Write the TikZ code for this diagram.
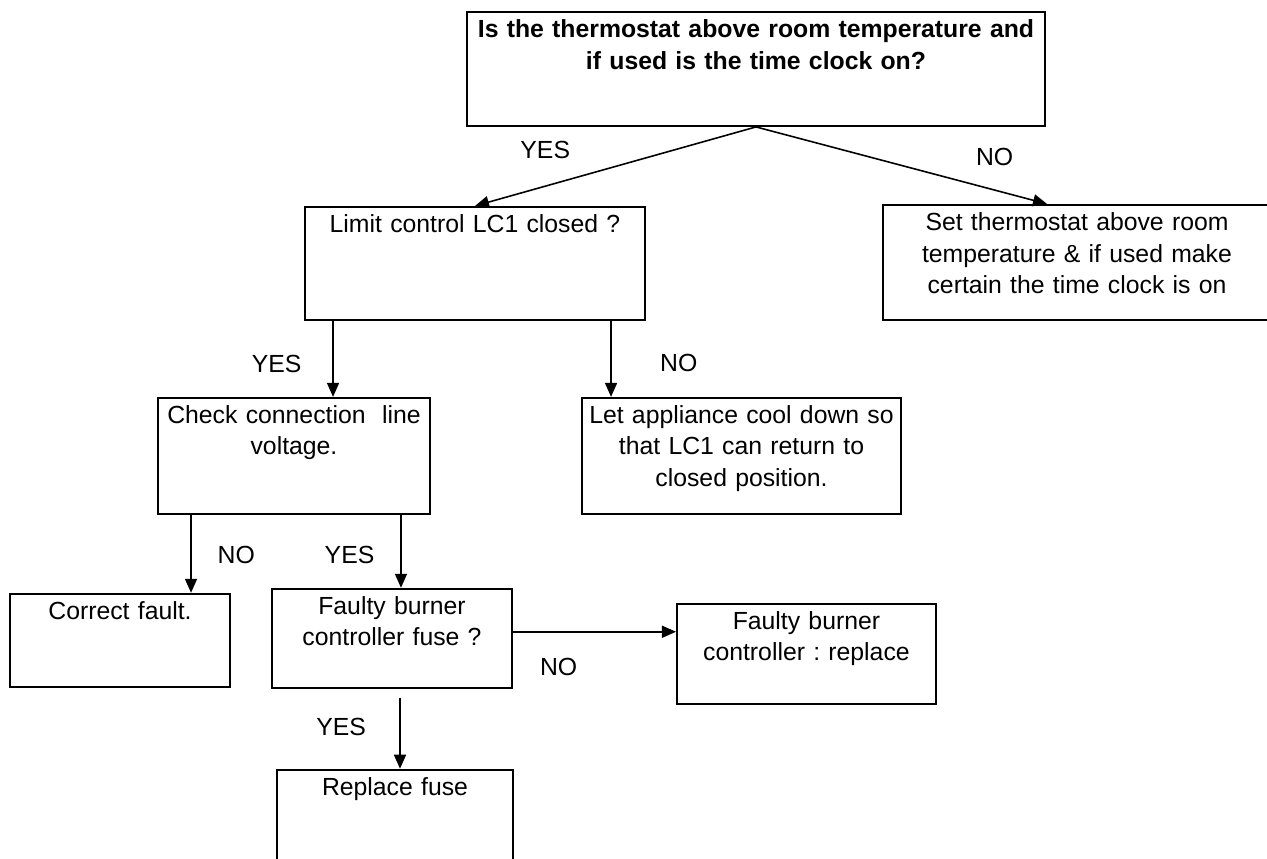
\documentclass[tikz,border=0pt]{standalone}
\usepackage{fontspec}
\setmainfont{Liberation Sans}
\usetikzlibrary{arrows.meta,positioning}

\begin{document}
\frenchspacing
\begin{tikzpicture}[
    every node/.style={font=\fontsize{14.1}{17.7}\selectfont},
    box/.style 2 args={draw, line width=1.1pt, text width=#1, align=center, inner xsep=0cm, inner ysep=0.12cm, text height=0.4cm, text depth=#2},
    every edge/.style={draw, line width=0.9pt, -{Triangle[length=0.28cm, width=0.24cm]}}
]
\useasboundingbox (0,0) rectangle (25.34,-17.18);

% Nodes
\node[box={11.56cm}{1.64cm}, font=\fontsize{14.1}{17.7}\selectfont\bfseries, anchor=north] (thermo) at (15.12,-0.22) {Is the thermostat above room temperature and\\ if used is the time clock on?};
\node[box={6.8cm}{1.62cm}, below=1.58cm of thermo.south, xshift=-5.62cm] (limit) {Limit control LC1 closed ?};
\node[box={7.76cm}{1.66cm}, below=1.54cm of thermo.south, xshift=6.42cm] (setstat) {Set thermostat above room\\ temperature \& if used make\\ certain the time clock is on};
\node[box={5.44cm}{1.68cm}, below=1.52cm of limit.south, xshift=-3.62cm] (check) {Check connection\ \ line\\ voltage.};
\node[box={6.38cm}{1.68cm}, below=1.52cm of limit.south, xshift=5.33cm] (cool) {Let appliance cool down so\\ that LC1 can return to\\ closed position.};
\node[box={4.4cm}{1.22cm}, below=1.56cm of check.south, xshift=-3.48cm] (correct) {Correct fault.};
\node[box={4.8cm}{1.34cm}, below=1.46cm of check.south, xshift=1.96cm] (fuse) {Faulty burner\\ controller fuse ?};
\node[box={5.18cm}{1.36cm}, right=3.26cm of fuse.east, yshift=-0.31cm] (ctrl) {Faulty burner\\ controller : replace};
\node[box={4.72cm}{1.36cm}, below=1.6cm of fuse.south, xshift=0.06cm] (repl) {Replace fuse};

% Edges
\path (thermo.south) edge node[pos=0.75, above=0.42cm] {YES} (limit.north);
\path (thermo.south) edge node[pos=0.82, above=0.36cm] {NO} ([xshift=-0.6cm]setstat.north);
\path ([xshift=0.58cm]limit.south west) edge node[pos=0.57, left=0.5cm] {YES} ([xshift=0.58cm]limit.south west |- check.north);
\path ([xshift=0.6cm]cool.north west |- limit.south) edge node[pos=0.55, right=0.85cm] {NO} ([xshift=0.6cm]cool.north west);
\path ([xshift=0.68cm]check.south west) edge node[pos=0.51, right=0.4cm] {NO} ([xshift=0.68cm]check.south west |- correct.north);
\path ([xshift=-0.6cm]check.south east) edge node[pos=0.55, left=0.4cm] {YES} ([xshift=-0.6cm]check.south east |- fuse.north);
\path ([yshift=0.13cm]fuse.east) edge node[pos=0.28, below=0.4cm] {NO} ([yshift=0.13cm]fuse.east -| ctrl.west);
\path ([xshift=0.16cm, yshift=-0.18cm]fuse.south) edge node[pos=0.41, left=0.55cm] {YES} ([xshift=0.16cm]fuse.south |- repl.north);

\end{tikzpicture}
\end{document}
